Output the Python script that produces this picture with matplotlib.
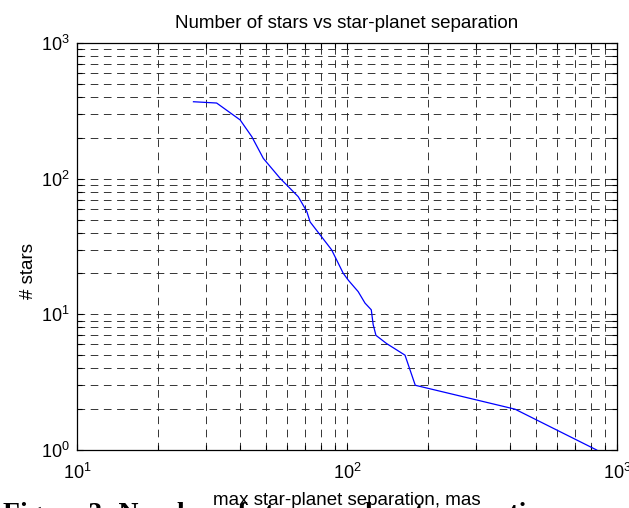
import matplotlib
matplotlib.use("Agg")
import matplotlib.pyplot as plt
from matplotlib.ticker import LogLocator, NullFormatter

# values
separation_mas = [27.0, 32.9, 40.2, 44.4, 49.0, 56.5, 66.0, 71.0, 73.0, 87.7,
                  96.8, 101, 110, 116.6, 123, 125, 128, 140, 164, 179, 419, 841]
n_stars = [369, 361, 271, 204, 141, 100.7, 73.6, 57.2, 48, 29.9,
           20.1, 17.9, 14.7, 12.1, 10.8, 8.4, 7.0, 6.1, 5.0, 3.0, 2.0, 1.0]

title = "Number of stars vs star-planet separation"
xlabel = "max star-planet separation, mas"
ylabel = "# stars"
caption = "Figure 3: Number of stars vs planet separation"

plt.rcParams['font.family'] = ['Liberation Sans', 'DejaVu Sans']
plt.rcParams['mathtext.fontset'] = 'custom'
plt.rcParams['mathtext.rm'] = 'Liberation Sans'
plt.rcParams['mathtext.it'] = 'Liberation Sans:italic'
plt.rcParams['mathtext.bf'] = 'Liberation Sans:bold'
plt.rcParams['lines.scale_dashes'] = False

fig = plt.figure(figsize=(6.29, 5.08), dpi=100)
ax = fig.add_axes([77 / 629, 1 - 450 / 508, 540 / 629, 407 / 508])

ax.plot(separation_mas, n_stars, color='blue', linewidth=0.9, zorder=3)

ax.set_xscale('log')
ax.set_yscale('log')
ax.set_xlim(10, 1000)
ax.set_ylim(1, 1000)

ax.xaxis.set_major_locator(LogLocator(base=10))
ax.yaxis.set_major_locator(LogLocator(base=10))
ax.xaxis.set_minor_locator(LogLocator(base=10, subs=range(2, 10)))
ax.yaxis.set_minor_locator(LogLocator(base=10, subs=range(2, 10)))
ax.xaxis.set_minor_formatter(NullFormatter())
ax.yaxis.set_minor_formatter(NullFormatter())

ax.grid(True, which='both', linestyle=(0, (5.5, 4)), color='0.15', linewidth=0.65)
ax.set_axisbelow(True)

ax.tick_params(which='both', direction='in', top=True, right=True, width=0.8)
ax.tick_params(which='major', length=4.5)
ax.tick_params(which='minor', length=3.5)
ax.tick_params(axis='x', which='major', pad=9, labelsize=13)
ax.tick_params(axis='y', which='major', pad=5, labelsize=13)
for s in ax.spines.values():
    s.set_linewidth(0.9)

ax.set_title(title, fontsize=13.5, pad=11)
ax.set_xlabel(xlabel, fontsize=13.5)
ax.xaxis.set_label_coords(0.5, -0.102)
ax.xaxis.label.set_verticalalignment('top')
ax.set_ylabel(ylabel, fontsize=13.5)
ax.yaxis.set_label_coords(-0.074, 0.44)

# document caption sitting underneath, mostly cut off by the image edge
fig.text(3 / 629, 1 - 521 / 508, caption, fontsize=20, fontweight='bold',
         family=['Liberation Serif', 'DejaVu Serif'], ha='left', va='baseline')

fig.savefig("out.png", dpi=100)
